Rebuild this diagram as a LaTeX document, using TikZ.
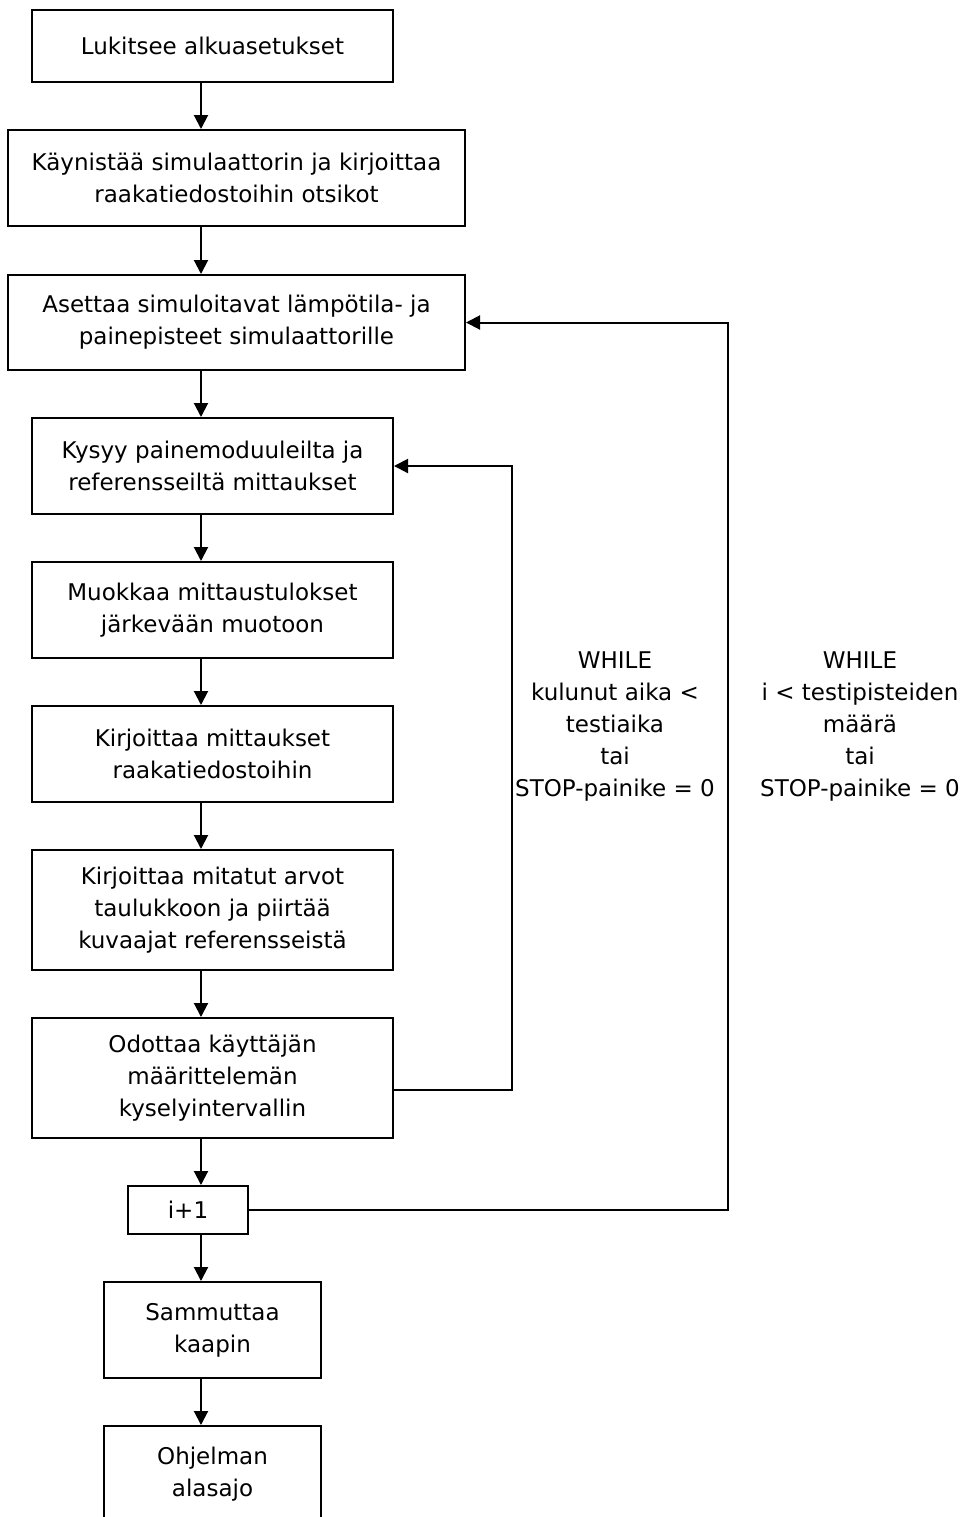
\documentclass[tikz,border=0pt]{standalone}
\usepackage{fontspec}
\setmainfont{DejaVu Sans}
\usepackage{tikz}
\usetikzlibrary{arrows.meta,positioning}

\tikzset{
  stepbox/.style={rectangle,draw=black,line width=1pt,fill=white,minimum width=180.5pt,minimum height=48pt,align=center,font=\fontsize{11.5}{16}\selectfont,inner sep=2pt},
  widebox/.style={stepbox,minimum width=228.5pt},
  flowarrow/.style={-{Triangle[length=7pt,width=7pt]},line width=1pt},
  looplabel/.style={align=center,font=\fontsize{11.5}{16}\selectfont}
}

\begin{document}
\begin{tikzpicture}[x=0.5pt,y=-0.5pt]
\useasboundingbox (0,0) rectangle (970,1517);
\coordinate (spine) at (201,0);
\coordinate (loopA) at (512,0);
\coordinate (loopB) at (728,0);
\node[stepbox,minimum height=36pt] (s0) at (212.5,46) {Lukitsee alkuasetukset};
\node[widebox] (s1) at (236.5,178) {Käynistää simulaattorin ja kirjoittaa\\raakatiedostoihin otsikot};
\node[widebox,minimum height=47.5pt] (s2) at (236.5,322.5) {Asettaa simuloitavat lämpötila- ja\\painepisteet simulaattorille};
\node[stepbox] (s3) at (212.5,466) {Kysyy painemoduuleilta ja\\referensseiltä mittaukset};
\node[stepbox] (s4) at (212.5,610) {Muokkaa mittaustulokset\\järkevään muotoon};
\node[stepbox] (s5) at (212.5,754) {Kirjoittaa mittaukset\\raakatiedostoihin};
\node[stepbox,minimum height=60pt] (s6) at (212.5,910) {Kirjoittaa mitatut arvot\\taulukkoon ja piirtää\\kuvaajat referensseistä};
\node[stepbox,minimum height=60pt] (s7) at (212.5,1078) {Odottaa käyttäjän\\määrittelemän\\kyselyintervallin};
\node[stepbox,minimum width=60pt,minimum height=24pt] (s8) at (188,1210) {i+1};
\node[stepbox,minimum width=108.5pt] (s9) at (212.5,1330) {Sammuttaa\\kaapin};
\node[stepbox,minimum width=108.5pt] (s10) at (212.5,1474) {Ohjelman\\alasajo};
% main flow
\foreach \a/\b in {s0/s1,s1/s2,s2/s3,s3/s4,s4/s5,s5/s6,s6/s7,s7/s8,s8/s9,s9/s10}
  \draw[flowarrow] (\a.south -| spine) -- (\b.north -| spine);
% loops
\draw[flowarrow] ([yshift=-6pt]s7.east) -- ([yshift=-6pt]s7.east -| loopA) |- (s3.east);
\draw[flowarrow] (s8.east) -- (s8.east -| loopB) |- (s2.east);
\node[looplabel] (w0) at (615,726) {WHILE\\kulunut aika <\\testiaika\\tai\\STOP-painike = 0};
\node[looplabel] (w1) at (860,726) {WHILE\\i < testipisteiden\\määrä\\tai\\STOP-painike = 0};
\end{tikzpicture}
\end{document}
